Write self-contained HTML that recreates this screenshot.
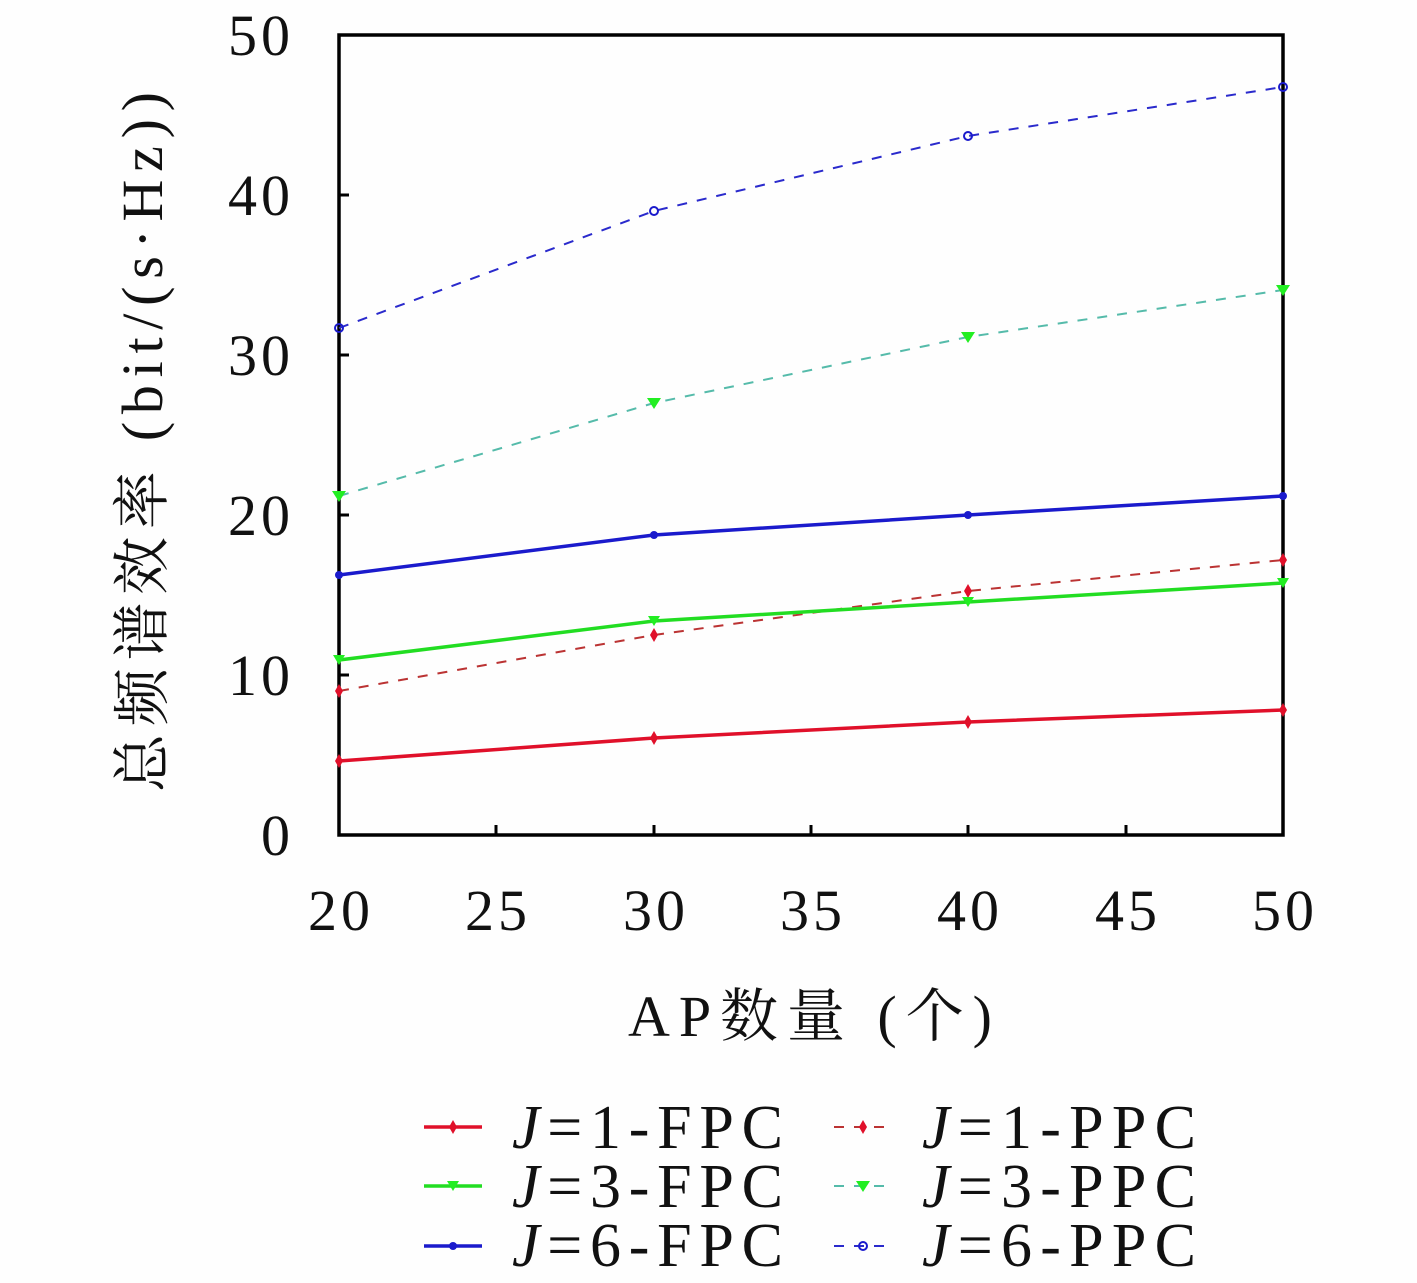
<!DOCTYPE html>
<html><head><meta charset="utf-8"><style>
html,body{margin:0;padding:0;background:#fefefe;}
svg{display:block}
text{font-family:"Liberation Serif","Noto Serif CJK SC",serif;fill:#111}
</style></head><body>
<svg width="1417" height="1283" viewBox="0 0 1417 1283" xmlns="http://www.w3.org/2000/svg">
<rect width="1417" height="1283" fill="#fefefe"/>
<g stroke="#000" stroke-width="3">
<line x1="496" y1="835" x2="496" y2="825"/><line x1="654" y1="835" x2="654" y2="825"/><line x1="811" y1="835" x2="811" y2="825"/><line x1="968" y1="835" x2="968" y2="825"/><line x1="1126" y1="835" x2="1126" y2="825"/>
<line x1="339" y1="675" x2="349" y2="675"/><line x1="339" y1="515" x2="349" y2="515"/><line x1="339" y1="355" x2="349" y2="355"/><line x1="339" y1="195" x2="349" y2="195"/>
</g>
<rect x="339" y="35" width="944" height="800" fill="none" stroke="#000" stroke-width="3.5"/>
<g font-size="58" text-anchor="end">
<text x="290" y="855">0</text><text x="290" y="695" textLength="62">10</text><text x="290" y="535" textLength="62">20</text><text x="290" y="375" textLength="62">30</text><text x="290" y="215" textLength="62">40</text><text x="290" y="55" textLength="62">50</text>
</g>
<g font-size="58">
<text x="308" y="930" textLength="62">20</text><text x="465" y="930" textLength="62">25</text><text x="623" y="930" textLength="62">30</text><text x="780" y="930" textLength="62">35</text><text x="937" y="930" textLength="62">40</text><text x="1095" y="930" textLength="62">45</text><text x="1252" y="930" textLength="62">50</text>
</g>
<text x="628" y="1036" font-size="58" textLength="364">AP数量 (个)</text>
<text transform="translate(162,792) rotate(-90)" font-size="58" textLength="700">总频谱效率 (bit/(s·Hz))</text>
<g fill="none" stroke-width="2">
<polyline points="339,328 654,211 968,136 1283,87" stroke="#2a2acc" stroke-dasharray="10,10"/>
<polyline points="339,496 654,403 968,337 1283,290" stroke="#55bbaa" stroke-dasharray="10,10"/>
<polyline points="339,691 654,635 968,591 1283,560" stroke="#b33" stroke-dasharray="10,10"/>
</g>
<g fill="none" stroke-width="3.5">
<polyline points="339,575 654,535 968,515 1283,496" stroke="#1a1acc"/>
<polyline points="339,660 654,621 968,602 1283,583" stroke="#22dd22"/>
<polyline points="339,761 654,738 968,722 1283,710" stroke="#e0102a"/>
</g>
<g fill="#e0102a">
<path d="M339,754l4,7l-4,7l-4,-7z"/><path d="M654,731l4,7l-4,7l-4,-7z"/><path d="M968,715l4,7l-4,7l-4,-7z"/><path d="M1283,703l4,7l-4,7l-4,-7z"/>
<path d="M339,684l4,7l-4,7l-4,-7z"/><path d="M654,628l4,7l-4,7l-4,-7z"/><path d="M968,584l4,7l-4,7l-4,-7z"/><path d="M1283,553l4,7l-4,7l-4,-7z"/>
</g>
<g fill="#22ee22">
<path d="M333,655h12l-6,10z"/><path d="M648,616h12l-6,10z"/><path d="M962,597h12l-6,10z"/><path d="M1277,578h12l-6,10z"/>
<path d="M332,491h14l-7,11z"/><path d="M647,398h14l-7,11z"/><path d="M961,332h14l-7,11z"/><path d="M1276,285h14l-7,11z"/>
</g>
<g fill="#1a1acc"><circle cx="339" cy="575" r="4"/><circle cx="654" cy="535" r="4"/><circle cx="968" cy="515" r="4"/><circle cx="1283" cy="496" r="4"/></g>
<g fill="none" stroke="#1a1acc" stroke-width="2"><circle cx="339" cy="328" r="4"/><circle cx="654" cy="211" r="4"/><circle cx="968" cy="136" r="4"/><circle cx="1283" cy="87" r="4"/></g>
<g stroke-width="3.5">
<line x1="424" y1="1127" x2="482" y2="1127" stroke="#e0102a"/>
<line x1="424" y1="1186" x2="482" y2="1186" stroke="#22dd22"/>
<line x1="424" y1="1246" x2="482" y2="1246" stroke="#1a1acc"/>
</g>
<g stroke-width="2" stroke-dasharray="10,10">
<line x1="834" y1="1127" x2="892" y2="1127" stroke="#b33"/>
<line x1="834" y1="1186" x2="892" y2="1186" stroke="#55bbaa"/>
<line x1="834" y1="1246" x2="892" y2="1246" stroke="#2a2acc"/>
</g>
<path d="M453,1120l4,7l-4,7l-4,-7z" fill="#e0102a"/>
<path d="M863,1120l4,7l-4,7l-4,-7z" fill="#e0102a"/>
<path d="M447,1181h12l-6,10z" fill="#22ee22"/>
<path d="M856,1181h14l-7,11z" fill="#22ee22"/>
<circle cx="453" cy="1246" r="4" fill="#1a1acc"/>
<circle cx="863" cy="1246" r="4" fill="none" stroke="#1a1acc" stroke-width="2"/>
<g font-size="62">
<text x="512" y="1148" textLength="271"><tspan font-style="italic">J</tspan>=1-FPC</text>
<text x="512" y="1207" textLength="271"><tspan font-style="italic">J</tspan>=3-FPC</text>
<text x="512" y="1266" textLength="271"><tspan font-style="italic">J</tspan>=6-FPC</text>
<text x="922" y="1148" textLength="274"><tspan font-style="italic">J</tspan>=1-PPC</text>
<text x="922" y="1207" textLength="274"><tspan font-style="italic">J</tspan>=3-PPC</text>
<text x="922" y="1266" textLength="274"><tspan font-style="italic">J</tspan>=6-PPC</text>
</g>
</svg>
</body></html>
